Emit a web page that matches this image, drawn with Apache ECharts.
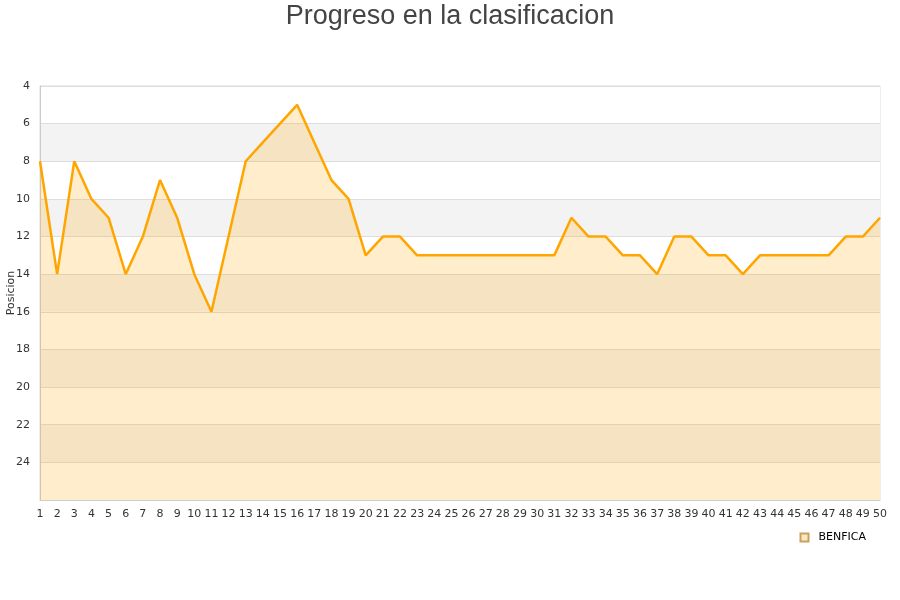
<!DOCTYPE html>
<html>
<head>
<meta charset="utf-8">
<script src="https://cdn.jsdelivr.net/npm/echarts@6/dist/echarts.min.js"></script>
<style>html,body{margin:0;padding:0;background:#fff;}#c{width:900px;height:600px;}</style>
</head>
<body>
<div id="c"></div>
<script>
var jornadas = [];
for (var i = 1; i <= 50; i++) jornadas.push(String(i));
var benfica = [8,14,8,10,11,14,12,9,11,14,16,12,8,7,6,5,7,9,10,13,12,12,13,13,13,13,13,13,13,13,13,11,12,12,13,13,14,12,12,13,13,14,13,13,13,13,13,12,12,11];
var titulo = 'Progreso en la clasificacion';
var ejeY = 'Posicion';
var equipo = 'BENFICA';

var chart = echarts.init(document.getElementById('c'));
chart.setOption({
  backgroundColor: '#fff',
  animation: false,
  title: {
    text: titulo, left: 'center', top: -2,
    textStyle: {fontFamily: 'Liberation Sans', fontSize: 27, fontWeight: 'normal', color: '#444'}
  },
  legend: {
    data: [equipo], right: 29, top: 527, itemWidth: 8, itemHeight: 8,
    icon: 'rect', itemGap: 10,
    textStyle: {fontFamily: 'DejaVu Sans', fontSize: 11, color: '#000', padding: [0, 0, 0, 5]}
  },
  grid: {left: 40, right: 20, top: 86, bottom: 100, containLabel: false, outerBoundsMode: 'none', show: true, borderColor: '#ddd', borderWidth: 1},
  xAxis: {
    type: 'category', data: jornadas, boundaryGap: false,
    axisLine: {lineStyle: {color: '#ccc'}},
    axisTick: {show: false},
    axisLabel: {interval: 0, color: '#333', fontFamily: 'DejaVu Sans', fontSize: 11, margin: 9},
    splitLine: {show: false}
  },
  yAxis: {
    type: 'value', inverse: true, min: 4, max: 26, interval: 2,
    name: ejeY, nameLocation: 'middle', nameGap: 29, nameRotate: 90, nameMoveOverlap: false,
    nameTextStyle: {fontFamily: 'DejaVu Sans', fontSize: 11, color: '#333', verticalAlign: 'middle', align: 'center'},
    axisLine: {show: true, lineStyle: {color: '#ccc'}},
    axisTick: {show: false},
    axisLabel: {showMaxLabel: false, color: '#333', fontFamily: 'DejaVu Sans', fontSize: 11, margin: 10},
    splitLine: {show: true, lineStyle: {color: '#ddd'}},
    splitArea: {show: true, areaStyle: {color: ['#ffffff', '#f3f3f3']}}
  },
  series: [{
    name: equipo, type: 'line', data: benfica, symbol: 'none',
    lineStyle: {color: '#ffa500', width: 2.5},
    itemStyle: {color: '#fde9c4', borderColor: '#c8a060', borderWidth: 1},
    areaStyle: {color: 'rgba(255,165,0,0.2)', opacity: 1, origin: 'end'}
  }]
});
</script>
</body>
</html>
